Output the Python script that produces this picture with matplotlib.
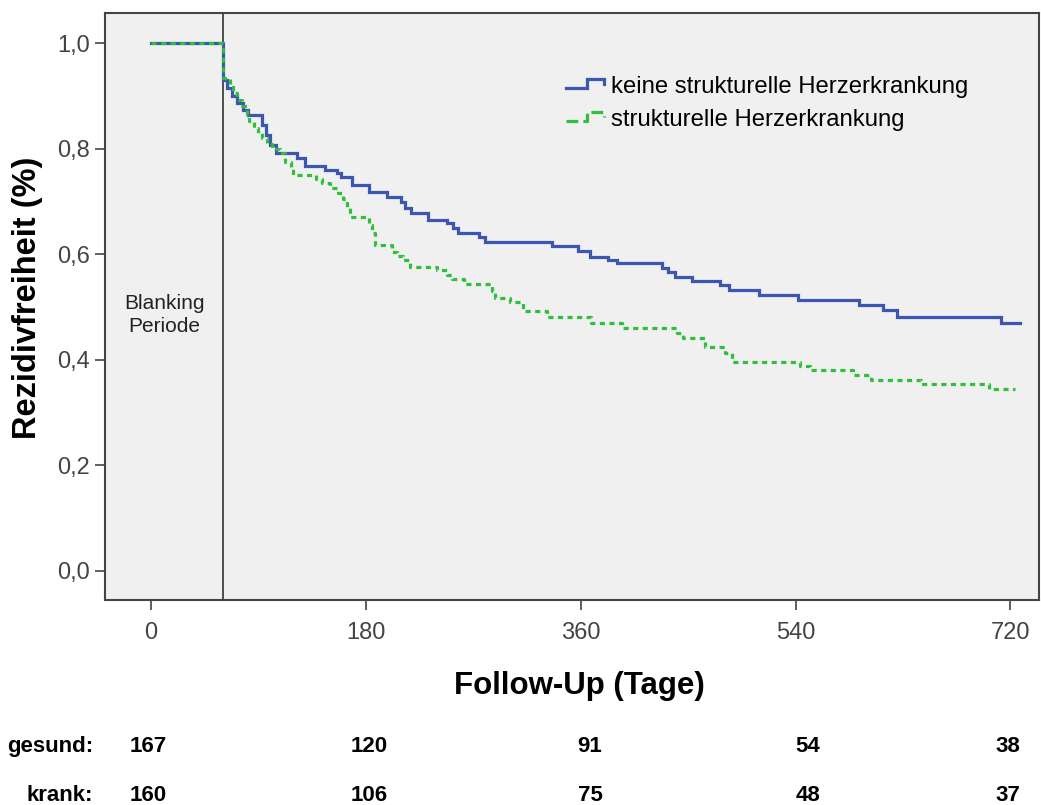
import matplotlib
matplotlib.use("Agg")
import matplotlib.pyplot as plt
from matplotlib.lines import Line2D
from matplotlib.legend_handler import HandlerLine2D
from matplotlib import font_manager

plt.rcParams['font.family'] = ['Liberation Sans', 'DejaVu Sans']

# Kaplan-Meier Schaetzer: Zeitpunkte (Tage) und Rezidivfreiheit nach jedem Ereignis
gesund_tage = [0, 60, 64, 68, 72, 77, 81, 93, 96, 100, 105, 122, 129, 146, 156, 159,
               168, 183, 198, 209, 213, 218, 232, 248, 253, 257, 275, 280, 336, 358,
               368, 383, 390, 428, 433, 439, 453, 477, 484, 509, 542, 593, 613, 625,
               712, 728]
gesund_surv = [1.0, 0.930, 0.915, 0.900, 0.886, 0.873, 0.864, 0.845, 0.826, 0.807, 0.792,
               0.782, 0.767, 0.760, 0.754, 0.746, 0.731, 0.718, 0.708, 0.699, 0.688,
               0.678, 0.665, 0.659, 0.650, 0.640, 0.633, 0.623, 0.616, 0.606, 0.595,
               0.589, 0.583, 0.574, 0.566, 0.557, 0.549, 0.542, 0.532, 0.523, 0.513,
               0.504, 0.494, 0.481, 0.470, 0.470]

krank_tage = [0, 60, 66, 69, 72, 76, 80, 82, 86, 90, 93, 97, 101, 108, 112, 117, 119,
              138, 143, 150, 157, 161, 164, 167, 183, 185, 188, 202, 206, 211, 217,
              240, 248, 252, 262, 286, 288, 301, 312, 332, 369, 395, 441, 446, 464,
              481, 487, 544, 552, 588, 603, 645, 702, 724]
krank_surv = [1.0, 0.934, 0.920, 0.905, 0.892, 0.880, 0.866, 0.852, 0.840, 0.830, 0.820,
              0.808, 0.800, 0.792, 0.775, 0.763, 0.750, 0.742, 0.735, 0.725, 0.716,
              0.705, 0.690, 0.670, 0.655, 0.640, 0.617, 0.604, 0.596, 0.590, 0.576,
              0.570, 0.560, 0.553, 0.543, 0.530, 0.517, 0.509, 0.492, 0.481, 0.470,
              0.460, 0.450, 0.441, 0.424, 0.412, 0.396, 0.388, 0.381, 0.371, 0.362,
              0.354, 0.345, 0.345]

blanking_tage = 60
x_ticks = [0, 180, 360, 540, 720]
y_ticks = [0.0, 0.2, 0.4, 0.6, 0.8, 1.0]

# Patienten unter Risiko
risk_gesund = [167, 120, 91, 54, 38]
risk_krank = [160, 106, 75, 48, 37]

blau = '#3d56b2'
gruen = '#2fbf3c'

# schmale Schrift fuer Achsenbeschriftung, falls vorhanden
installiert = {f.name for f in font_manager.fontManager.ttflist}
schmal = 'Liberation Sans Narrow' if 'Liberation Sans Narrow' in installiert else None


class StepHandler(HandlerLine2D):
    # kleines Treppensymbol statt gerader Linie in der Legende
    def create_artists(self, legend, orig_handle, xdescent, ydescent,
                       width, height, fontsize, trans):
        x0, w = -xdescent, width
        y0, h = -ydescent, height
        xs = [x0, x0 + 0.55 * w, x0 + 0.55 * w, x0 + w, x0 + w]
        ys = [y0 + 0.3 * h, y0 + 0.3 * h, y0 + 0.85 * h, y0 + 0.85 * h, y0 + 0.55 * h]
        line = Line2D(xs, ys, color=orig_handle.get_color(),
                      linestyle=orig_handle.get_linestyle(),
                      linewidth=orig_handle.get_linewidth(),
                      dash_capstyle='butt', solid_joinstyle='miter')
        line.set_transform(trans)
        return [line]


fig = plt.figure(figsize=(10.41, 8.05), dpi=100)
ax = fig.add_axes([105 / 1041, 1 - 600 / 805, 934 / 1041, 587 / 805])
ax.set_facecolor('#f0f0f0')

ax.axvline(blanking_tage, color='#333333', lw=1.2, zorder=1)

l1, = ax.step(gesund_tage, gesund_surv, where='post', color=blau, lw=2.3,
              solid_joinstyle='miter', zorder=3,
              label='keine strukturelle Herzerkrankung')
l2, = ax.step(krank_tage, krank_surv, where='post', color=gruen, lw=2.3,
              linestyle=(0, (1.6, 1.4)), dash_capstyle='butt', zorder=4,
              label='strukturelle Herzerkrankung')

ax.set_xlim(-38.6, 744)
ax.set_ylim(-0.055, 1.057)
ax.set_xticks(x_ticks)
ax.set_xticklabels([str(t) for t in x_ticks])
ax.set_yticks(y_ticks)
ax.set_yticklabels([f'{v:.1f}'.replace('.', ',') for v in y_ticks])
ax.tick_params(axis='both', direction='out', length=7, width=1.2, color='#444444',
               labelcolor='#444444', labelsize=18 if schmal else 17)
ax.tick_params(axis='x', pad=9)
ax.tick_params(axis='y', pad=4)
if schmal:
    for lab in ax.get_xticklabels() + ax.get_yticklabels():
        lab.set_family([schmal, 'Liberation Sans'])

for sp in ax.spines.values():
    sp.set_color('#444444')
    sp.set_linewidth(1.5)

ax.text((blanking_tage - 38.6) / 2 + 0.5, 0.485, 'Blanking\nPeriode', ha='center',
        va='center', fontsize=15, color='#222222', linespacing=1.3)

fig.text(28 / 1041, 1 - 298 / 805, 'Rezidivfreiheit (%)', rotation=90,
         ha='center', va='center', fontsize=23.5, fontweight='bold')
fig.text(579 / 1041, 1 - 686 / 805, 'Follow-Up (Tage)', ha='center',
         va='center', fontsize=22.5, fontweight='bold')

ax.legend(handles=[l1, l2], loc='upper left', bbox_to_anchor=(0.494, 0.892),
          borderaxespad=0, borderpad=0, frameon=False, fontsize=17.2,
          handlelength=1.56, handletextpad=0.3, labelspacing=0.45,
          handler_map={Line2D: StepHandler()})

# Tabelle der Patienten unter Risiko
risk_x = [148, 369, 590, 808, 1008]
risk_font = dict(fontsize=16, fontweight='bold', va='center',
                 family=[schmal, 'Liberation Sans'] if schmal else ['Liberation Sans'])
fig.text(93 / 1041, 1 - 746 / 805, 'gesund:', ha='right', **risk_font)
fig.text(93 / 1041, 1 - 795 / 805, 'krank:', ha='right', **risk_font)
for px, g, k in zip(risk_x, risk_gesund, risk_krank):
    fig.text(px / 1041, 1 - 746 / 805, str(g), ha='center', **risk_font)
    fig.text(px / 1041, 1 - 795 / 805, str(k), ha='center', **risk_font)

fig.savefig('out.png', dpi=100)
